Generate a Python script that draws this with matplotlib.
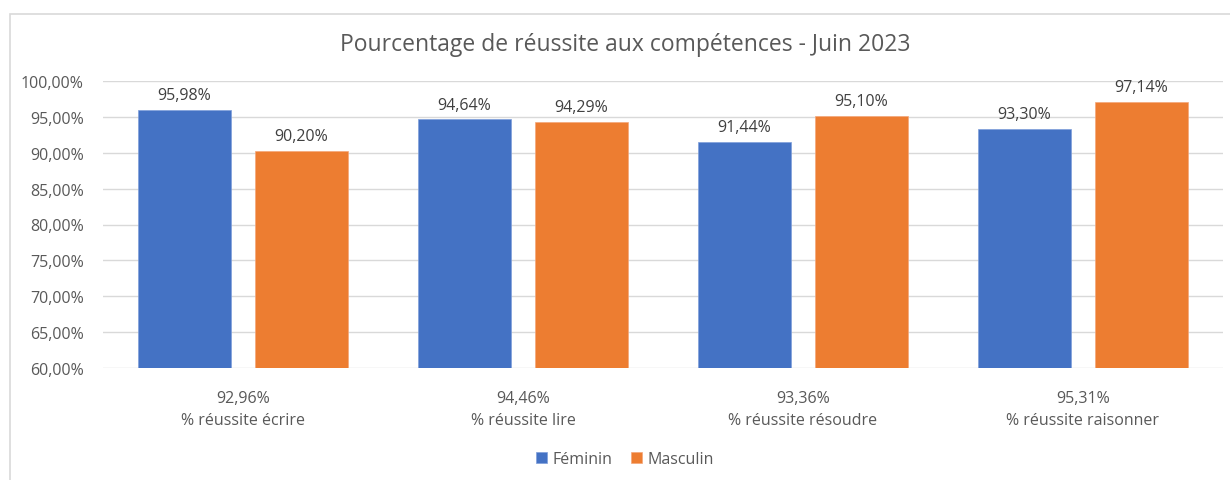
import matplotlib.pyplot as plt
import numpy as np
from matplotlib.patches import Rectangle

# Data
categories = ["% réussite écrire", "% réussite lire", "% réussite résoudre", "% réussite raisonner"]
totals = [92.96, 94.46, 93.36, 95.31]
feminin = [95.98, 94.64, 91.44, 93.30]
masculin = [90.20, 94.29, 95.10, 97.14]
series_names = ["Féminin", "Masculin"]


def fr_pct(v):
    return f"{v:.2f}".replace(".", ",") + "%"


plt.rcParams["font.family"] = ["Open Sans", "DejaVu Sans"]

fig = plt.figure(figsize=(12.3, 4.81), dpi=100)
fig.patches.append(Rectangle((10 / 1230, -0.1), 1.1, 1.1 - 15 / 481,
                             transform=fig.transFigure, fill=False,
                             edgecolor="#D9D9D9", linewidth=1.2))

ax = fig.add_axes([103 / 1230, 1 - 369 / 481, 1120 / 1230, (369 - 82) / 481])

blue = "#4472C4"
orange = "#ED7D31"
text_col = "#595959"
fs = 11.5

x = np.arange(len(categories))
w = 0.332
off = 0.209
b1 = ax.bar(x - off, feminin, w, color=blue, label=series_names[0], zorder=3,
            edgecolor="#7F9FDA", linewidth=0.5)
b2 = ax.bar(x + off, masculin, w, color=orange, label=series_names[1], zorder=3,
            edgecolor="#F4A77A", linewidth=0.5)

for bars, vals in ((b1, feminin), (b2, masculin)):
    for rect, v in zip(bars, vals):
        ax.annotate(fr_pct(v), (rect.get_x() + rect.get_width() / 2, v),
                    xytext=(0, 5), textcoords="offset points",
                    ha="center", va="bottom", fontsize=fs, color="#404040")

ax.set_ylim(60, 100)
ax.set_xlim(-0.5, len(categories) - 0.5)
yt = np.arange(60, 101, 5)
ax.set_yticks(yt)
ax.set_yticklabels([fr_pct(v) for v in yt], fontsize=fs, color=text_col)
ax.set_xticks(x)
ax.set_xticklabels([f"{fr_pct(t)}\n{c}" for t, c in zip(totals, categories)],
                   fontsize=fs, color=text_col, linespacing=1.45)
ax.tick_params(axis="both", length=0)
ax.tick_params(axis="x", pad=16)
ax.tick_params(axis="y", pad=14)
ax.grid(axis="y", color="#D9D9D9", linewidth=1, zorder=0)
for s in ax.spines.values():
    s.set_visible(False)

fig.text(0.508, 1 - 45 / 481, "Pourcentage de réussite aux compétences - Juin 2023",
         ha="center", va="center", fontsize=16.5, color=text_col)

fig.legend(handles=[b1, b2], labels=series_names, loc="center",
           bbox_to_anchor=(0.508, 1 - 460 / 481), ncol=2, frameon=False,
           fontsize=fs, handlelength=0.7, handleheight=0.7, handletextpad=0.3,
           columnspacing=1.2, labelcolor=text_col)

fig.savefig("out.png", dpi=100)
